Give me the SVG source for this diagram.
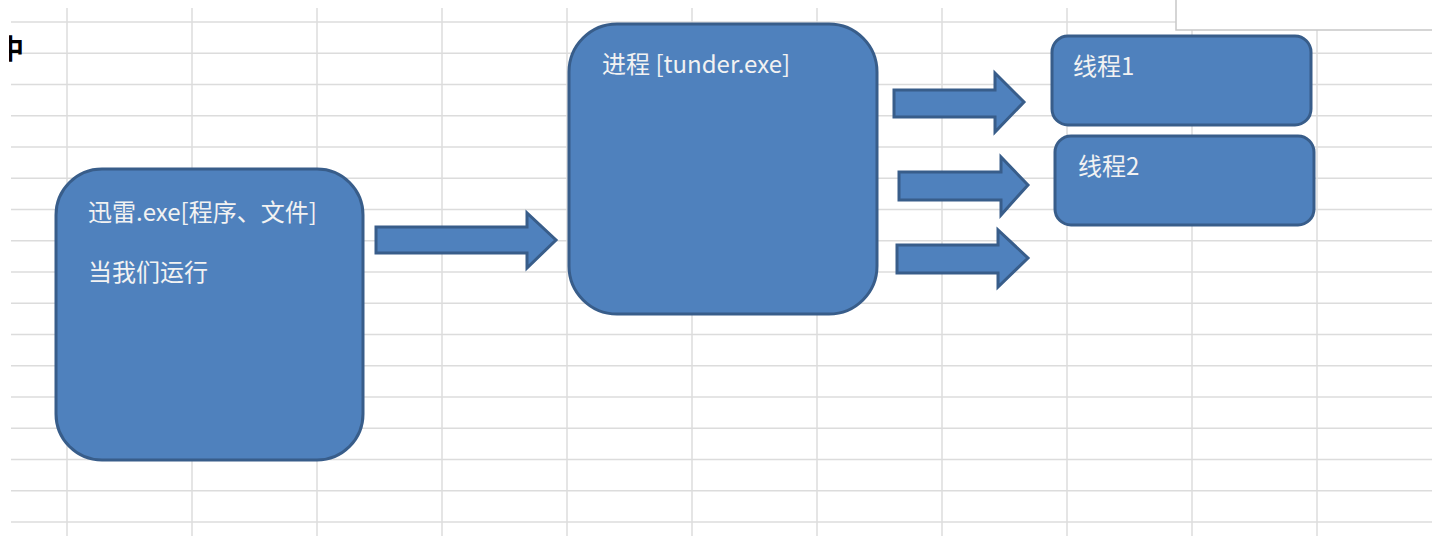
<svg xmlns="http://www.w3.org/2000/svg" width="1443" height="536" viewBox="0 0 1443 536">
<style>
.grid line{stroke:#dcdcdc;stroke-width:1.5}
.node{fill:#4f81bd;stroke:#385d8a;stroke-width:3}
.arrow{fill:#4f81bd;stroke:#385d8a;stroke-width:3;stroke-linejoin:miter}
.lbl{font-family:"Noto Sans CJK SC","Noto Sans",sans-serif;fill:#f2f2f2;font-size:24px}
</style>
<defs>
<clipPath id="cut"><rect x="9" y="28" width="20" height="40"/></clipPath>
</defs>
<rect width="1443" height="536" fill="#ffffff"/>
<g class="grid">
<line x1="11" y1="22" x2="1432" y2="22"/>
<line x1="11" y1="53.25" x2="1432" y2="53.25"/>
<line x1="11" y1="84.5" x2="1432" y2="84.5"/>
<line x1="11" y1="115.75" x2="1432" y2="115.75"/>
<line x1="11" y1="147" x2="1432" y2="147"/>
<line x1="11" y1="178.25" x2="1432" y2="178.25"/>
<line x1="11" y1="209.5" x2="1432" y2="209.5"/>
<line x1="11" y1="240.75" x2="1432" y2="240.75"/>
<line x1="11" y1="272" x2="1432" y2="272"/>
<line x1="11" y1="303.25" x2="1432" y2="303.25"/>
<line x1="11" y1="334.5" x2="1432" y2="334.5"/>
<line x1="11" y1="365.75" x2="1432" y2="365.75"/>
<line x1="11" y1="397" x2="1432" y2="397"/>
<line x1="11" y1="428.25" x2="1432" y2="428.25"/>
<line x1="11" y1="459.5" x2="1432" y2="459.5"/>
<line x1="11" y1="490.75" x2="1432" y2="490.75"/>
<line x1="11" y1="522" x2="1432" y2="522"/>
<line x1="67" y1="8" x2="67" y2="536"/>
<line x1="192" y1="8" x2="192" y2="536"/>
<line x1="317" y1="8" x2="317" y2="536"/>
<line x1="442" y1="8" x2="442" y2="536"/>
<line x1="567" y1="8" x2="567" y2="536"/>
<line x1="692" y1="8" x2="692" y2="536"/>
<line x1="817" y1="8" x2="817" y2="536"/>
<line x1="942" y1="8" x2="942" y2="536"/>
<line x1="1067" y1="8" x2="1067" y2="536"/>
<line x1="1192" y1="8" x2="1192" y2="536"/>
<line x1="1317" y1="8" x2="1317" y2="536"/>
</g>
<g id="corner-box">
<rect x="1176" y="0" width="260" height="30" fill="#ffffff"/>
<path d="M1176 0 V30 H1432" fill="none" stroke="#c8c8c8" stroke-width="1.5"/>
</g>
<text x="-3" y="59" clip-path="url(#cut)" font-family="Noto Sans CJK SC, sans-serif" font-size="27" font-weight="bold" fill="#000000">中</text>
<g id="connectors">
<polygon class="arrow" points="376,227 527,227 527,213 556,240 527,268 527,253 376,253"/>
<polygon class="arrow" points="894,90 995,90 995,73 1024,102 995,132 995,117 894,117"/>
<polygon class="arrow" points="899,172 1001,172 1001,157 1028,185 1001,215 1001,200 899,200"/>
<polygon class="arrow" points="897,245 998,245 998,230 1028,258 998,287 998,273 897,273"/>
</g>
<g id="node-xunlei">
<rect class="node" x="56" y="169" width="307" height="291" rx="46" ry="46"/>
<text class="lbl" x="88" y="221">迅雷.exe[程序、文件]</text>
<text class="lbl" x="88" y="281">当我们运行</text>
</g>
<g id="node-process">
<rect class="node" x="569" y="24" width="308" height="290" rx="48" ry="48"/>
<text class="lbl" x="602" y="73">进程 [tunder.exe]</text>
</g>
<g id="node-thread1">
<rect class="node" x="1052" y="36" width="259" height="89" rx="16" ry="16"/>
<text class="lbl" x="1073" y="75" font-size="25">线程1</text>
</g>
<g id="node-thread2">
<rect class="node" x="1055" y="136" width="259" height="89" rx="16" ry="16"/>
<text class="lbl" x="1078" y="175" font-size="25">线程2</text>
</g>
</svg>
